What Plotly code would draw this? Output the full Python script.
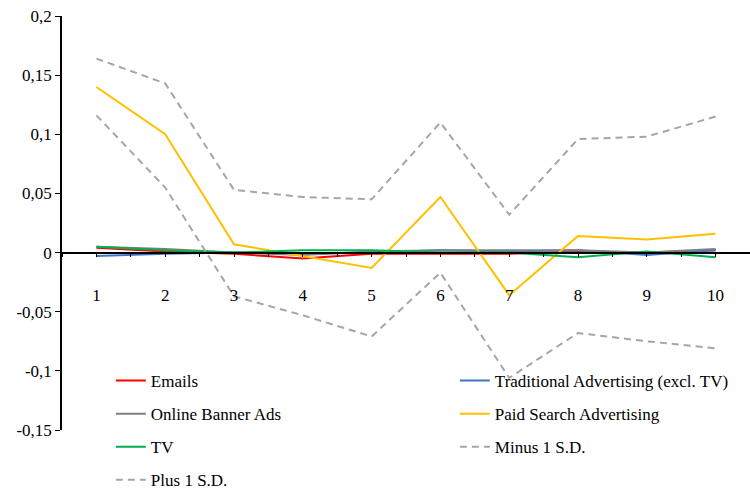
import plotly.graph_objects as go

periods = [1, 2, 3, 4, 5, 6, 7, 8, 9, 10]
emails = [0.004, 0.001, -0.001, -0.005, -0.001, -0.001, -0.001, 0.001, 0.000, 0.002]
traditional = [-0.003, -0.001, 0.000, -0.001, 0.000, 0.002, 0.001, 0.002, -0.002, 0.002]
banner = [0.005, 0.003, 0.000, -0.002, 0.001, 0.002, 0.002, 0.002, 0.000, 0.003]
paid_search = [0.140, 0.100, 0.007, -0.003, -0.013, 0.047, -0.036, 0.014, 0.011, 0.016]
tv = [0.005, 0.002, 0.000, 0.002, 0.002, 0.000, 0.000, -0.004, 0.001, -0.004]
minus_sd = [0.116, 0.055, -0.037, -0.053, -0.071, -0.017, -0.106, -0.068, -0.075, -0.081]
plus_sd = [0.164, 0.143, 0.053, 0.047, 0.045, 0.110, 0.032, 0.096, 0.098, 0.115]

y_ticks = [0.2, 0.15, 0.1, 0.05, 0, -0.05, -0.1, -0.15]
y_tick_text = ["0,2", "0,15", "0,1", "0,05", "0", "-0,05", "-0,1", "-0,15"]

series = [
    ("Emails", emails, "#FF0000", "solid", "legend"),
    ("Traditional Advertising (excl. TV)", traditional, "#4472C4", "solid", "legend2"),
    ("Online Banner Ads", banner, "#7F7F7F", "solid", "legend"),
    ("Paid Search Advertising", paid_search, "#FFC000", "solid", "legend2"),
    ("TV", tv, "#00B050", "solid", "legend"),
    ("Minus 1 S.D.", minus_sd, "#A6A6A6", "7px,5px", "legend2"),
    ("Plus 1 S.D.", plus_sd, "#A6A6A6", "7px,5px", "legend"),
]

FONT = "Liberation Serif"
FS = 17

fig = go.Figure()
for name, vals, color, dash, leg in series:
    fig.add_trace(go.Scatter(
        x=periods, y=vals, mode="lines", name=name,
        line=dict(color=color, width=2, dash=dash),
        legend=leg, legendgroup=name,
    ))

H_TOP, H_BOT = 16, 63
plot_h = 493 - H_TOP - H_BOT
zero_pos = 0.15 / 0.35
leg_y = (430 - 363) / plot_h

fig.update_layout(
    width=750, height=493,
    margin=dict(l=62, r=0, t=H_TOP, b=H_BOT, autoexpand=False),
    paper_bgcolor="white", plot_bgcolor="white",
    font=dict(family=FONT, size=FS, color="black"),
    xaxis=dict(
        range=[0.5, 10.5], tickvals=periods, ticktext=[str(p) for p in periods],
        showgrid=False, zeroline=False, showline=True, linecolor="black", linewidth=1.5,
        ticks="outside", ticklen=4, tickcolor="black",
        minor=dict(tick0=0.5, dtick=1, ticks="outside", ticklen=4, tickcolor="black"),
        anchor="free", position=zero_pos, ticklabelstandoff=23, automargin=False,
        tickfont=dict(family=FONT, size=FS),
    ),
    yaxis=dict(
        range=[-0.15, 0.2], tickvals=y_ticks, ticktext=y_tick_text,
        showgrid=False, zeroline=False, showline=True, linecolor="black", linewidth=1.5,
        ticks="outside", ticklen=5, tickcolor="black", automargin=False,
        tickfont=dict(family=FONT, size=FS),
    ),
    legend=dict(x=0.071, y=leg_y, xanchor="left", yanchor="top",
                orientation="v", tracegroupgap=8, bgcolor="rgba(0,0,0,0)",
                font=dict(family=FONT, size=FS)),
    legend2=dict(x=0.571, y=leg_y, xanchor="left", yanchor="top",
                 orientation="v", tracegroupgap=8, bgcolor="rgba(0,0,0,0)",
                 font=dict(family=FONT, size=FS)),
)

fig.write_html("out.html")
